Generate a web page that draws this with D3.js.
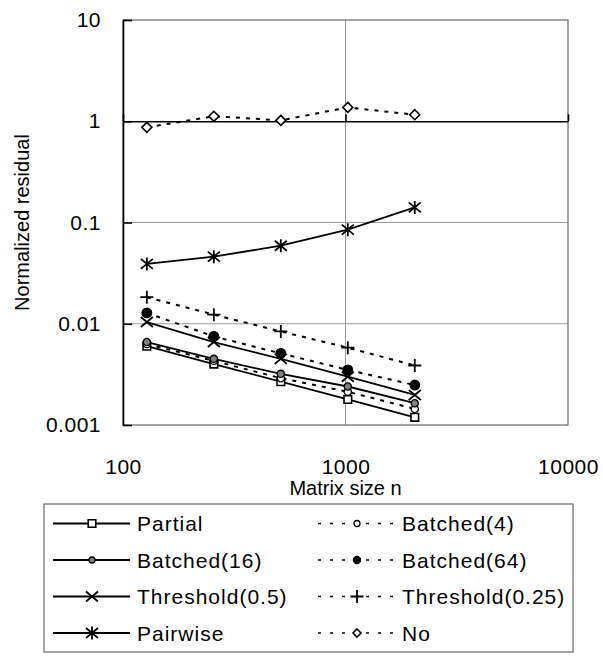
<!DOCTYPE html>
<html>
<head>
<meta charset="utf-8">
<script src="https://cdn.jsdelivr.net/npm/d3@7"></script>
<style>
  body { margin: 0; background: #fff; }
  svg text { font-family: "Liberation Sans", Arial, sans-serif; fill: #000; }
</style>
</head>
<body>
<svg id="chart" width="603" height="656"></svg>
<script>
"use strict";

// Matrix sizes (x) and residuals per method
const sizes = [128, 256, 512, 1024, 2048];

const partial      = [0.0060, 0.0040, 0.00268, 0.00179, 0.00119];
const batched4     = [0.0063, 0.0043, 0.0029, 0.00213, 0.00144];
const batched16    = [0.0066, 0.0045, 0.0032, 0.0024, 0.00164];
const batched64    = [0.0128, 0.0075, 0.0051, 0.0035, 0.00248];
const threshold05  = [0.0104, 0.0066, 0.0045, 0.0030, 0.00198];
const threshold025 = [0.0183, 0.0123, 0.0084, 0.0058, 0.00387];
const pairwise     = [0.039, 0.046, 0.059, 0.085, 0.141];
const noPivot      = [0.87, 1.12, 1.02, 1.37, 1.16];

const seriesNames = ["Partial", "Batched(4)", "Batched(16)", "Batched(64)",
                     "Threshold(0.5)", "Threshold(0.25)", "Pairwise", "No"];

const xTicks = [100, 1000, 10000];
const xTickLabels = ["100", "1000", "10000"];
const yTicks = [0.001, 0.01, 0.1, 1, 10];
const yTickLabels = ["0.001", "0.01", "0.1", "1", "10"];

// Style per series: marker, dashed or not
const seriesStyle = {
  "Partial":         {marker: "square",  fill: "#fff",    dashed: false},
  "Batched(4)":      {marker: "circle",  fill: "#fff",    dashed: true},
  "Batched(16)":     {marker: "circle",  fill: "#808080", dashed: false},
  "Batched(64)":     {marker: "dot",     fill: "#000",    dashed: true},
  "Threshold(0.5)":  {marker: "x",       fill: "none",    dashed: false},
  "Threshold(0.25)": {marker: "plus",    fill: "none",    dashed: true},
  "Pairwise":        {marker: "star",    fill: "none",    dashed: false},
  "No":              {marker: "diamond", fill: "#fff",    dashed: true}
};

const seriesData = [partial, batched4, batched16, batched64,
                    threshold05, threshold025, pairwise, noPivot];

const series = seriesNames.map((name, i) => ({
  name: name,
  values: sizes.map((n, j) => ({n: n, v: seriesData[i][j]}))
}));

const svg = d3.select("#chart");

const plotLeft = 123, plotRight = 568, plotTop = 20, plotBottom = 425;

const x = d3.scaleLog().domain([100, 10000]).range([plotLeft, plotRight]);
const y = d3.scaleLog().domain([0.001, 10]).range([plotBottom, plotTop]);

// Gridlines
svg.append("g").selectAll("line")
    .data([0.01, 0.1])
  .enter().append("line")
    .attr("x1", plotLeft).attr("x2", plotRight)
    .attr("y1", d => y(d)).attr("y2", d => y(d))
    .style("stroke", "#999").style("stroke-width", 1);

svg.append("line")
    .attr("x1", x(1000)).attr("x2", x(1000))
    .attr("y1", plotTop).attr("y2", plotBottom)
    .style("stroke", "#999").style("stroke-width", 1);

// Plot frame
svg.append("rect")
    .attr("x", plotLeft).attr("y", plotTop)
    .attr("width", plotRight - plotLeft).attr("height", plotBottom - plotTop)
    .style("fill", "none").style("stroke", "#666").style("stroke-width", 1.2);

// Y axis (ticks inside, labels on the left)
const yAxis = svg.append("g")
    .attr("transform", "translate(" + plotLeft + ",0)")
    .call(d3.axisLeft(y)
      .tickValues(yTicks)
      .tickFormat((d, i) => yTickLabels[i])
      .tickSizeInner(-9)
      .tickSizeOuter(0)
      .tickPadding(22));

yAxis.select(".domain").style("stroke", "#000").style("stroke-width", 1.6);
yAxis.selectAll(".tick line").style("stroke", "#000").style("stroke-width", 1.6);
yAxis.selectAll("text")
    .attr("font-size", 21)
    .attr("font-family", null)
    .style("letter-spacing", "0.5px");

// X axis line crosses at y = 1 (tick marks only)
const xAxis = svg.append("g")
    .attr("transform", "translate(0," + y(1) + ")")
    .call(d3.axisBottom(x)
      .tickValues(xTicks)
      .tickFormat("")
      .tickSizeInner(-7)
      .tickSizeOuter(0));

xAxis.select(".domain").style("stroke", "#000").style("stroke-width", 1.6);
xAxis.selectAll(".tick line").style("stroke", "#000").style("stroke-width", 1.6);

// X tick labels, placed low
const xLabels = svg.append("g")
    .attr("transform", "translate(0," + plotBottom + ")")
    .call(d3.axisBottom(x)
      .tickValues(xTicks)
      .tickFormat((d, i) => xTickLabels[i])
      .tickSize(0)
      .tickPadding(34));

xLabels.select(".domain").remove();
xLabels.selectAll("text")
    .attr("font-size", 21)
    .attr("font-family", null)
    .style("letter-spacing", "0.5px");

// Axis titles
svg.append("text")
    .attr("x", (plotLeft + plotRight) / 2)
    .attr("y", 495)
    .attr("text-anchor", "middle")
    .attr("font-size", 20)
    .text("Matrix size n");

svg.append("text")
    .attr("transform", "translate(29," + ((plotTop + plotBottom) / 2) + ") rotate(-90)")
    .attr("text-anchor", "middle")
    .attr("font-size", 20)
    .text("Normalized residual");

// Marker shapes
function markerPath(type, s) {
  switch (type) {
    case "square": return "M" + (-s) + "," + (-s) + "h" + (2 * s) + "v" + (2 * s) + "h" + (-2 * s) + "Z";
    case "diamond": return "M0," + (-s) + "L" + s + ",0L0," + s + "L" + (-s) + ",0Z";
    case "x": return "M-6,-5L6,5M-6,5L6,-5";
    case "plus": return "M-6.5,0L6.5,0M0,-6.5L0,6.5";
    case "star": return "M-6,-5L6,5M-6,5L6,-5M0,-6.5L0,6.5";
  }
}

function drawMarker(g, style, legend) {
  const t = style.marker;
  if (t === "circle" || t === "dot") {
    g.append("circle")
        .attr("r", t === "dot" ? (legend ? 3.5 : 4.8) : (legend ? 3 : 3.6))
        .style("fill", style.fill)
        .style("stroke", "#000")
        .style("stroke-width", 1.3);
  } else {
    const s = t === "square" ? 3.8 : 5;
    g.append("path")
        .attr("d", markerPath(t, legend && t === "diamond" ? 4 : s))
        .style("fill", style.fill)
        .style("stroke", "#000")
        .style("stroke-width", t === "square" || t === "diamond" ? 1.6 : 1.8);
  }
}

const line = d3.line()
    .x(d => x(d.n))
    .y(d => y(d.v));

// Lines
svg.append("g").selectAll("path")
    .data(series)
  .enter().append("path")
    .attr("d", d => line(d.values))
    .style("fill", "none")
    .style("stroke", "#000")
    .style("stroke-width", d => seriesStyle[d.name].dashed ? 2 : 1.8)
    .style("stroke-dasharray", d => seriesStyle[d.name].dashed ? "4,6" : null);

// Markers
series.forEach(s => {
  const style = seriesStyle[s.name];
  svg.append("g").selectAll("g")
      .data(s.values)
    .enter().append("g")
      .attr("transform", d => "translate(" + x(d.n) + "," + y(d.v) + ")")
      .each(function() { drawMarker(d3.select(this), style, false); });
});

// Legend
const legendRows = [523.5, 560, 596.5, 633];
const legendCols = [
  {x1: 53, x2: 130, mx: 92, tx: 137},
  {x1: 318, x2: 396, mx: 357, tx: 402}
];

svg.append("rect")
    .attr("x", 44).attr("y", 504)
    .attr("width", 529).attr("height", 148)
    .style("fill", "#fff").style("stroke", "#666").style("stroke-width", 1.2);

const legendEnter = svg.append("g").selectAll("g")
    .data(seriesNames)
  .enter().append("g")
    .attr("transform", (d, i) => "translate(0," + legendRows[Math.floor(i / 2)] + ")");

legendEnter.append("line")
    .attr("x1", (d, i) => legendCols[i % 2].x1)
    .attr("x2", (d, i) => legendCols[i % 2].x2)
    .style("stroke", "#000")
    .style("stroke-width", d => seriesStyle[d].dashed ? 1.5 : 1.8)
    .style("stroke-dasharray", d => seriesStyle[d].dashed ? "3,9" : null);

legendEnter.append("g")
    .attr("transform", (d, i) => "translate(" + legendCols[i % 2].mx + ",0)")
    .each(function(d) { drawMarker(d3.select(this), seriesStyle[d], true); });

legendEnter.append("text")
    .attr("x", (d, i) => legendCols[i % 2].tx)
    .attr("dy", "0.36em")
    .attr("font-size", 21)
    .style("letter-spacing", "1px")
    .text(d => d);
</script>
</body>
</html>
